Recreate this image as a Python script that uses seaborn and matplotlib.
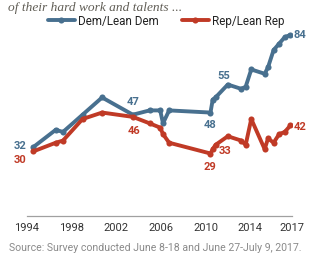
import matplotlib
matplotlib.use("Agg")
import matplotlib.pyplot as plt
from matplotlib.lines import Line2D
import seaborn as sns
import pandas as pd

# ---- data ----
years = [1994.6, 1996.6, 1997.25, 1999.0, 2000.75, 2003.5, 2005.0, 2005.95,
         2006.2, 2006.75, 2010.45, 2010.65, 2010.9, 2012.0, 2013.2, 2013.6,
         2014.1, 2015.3, 2015.6, 2016.1, 2016.6, 2017.1, 2017.6]
dem = [32, 40, 39, 47, 55, 47, 49, 49, 43, 49, 48, 54, 55, 61, 59, 60,
       68, 66, 69, 77, 80, 83, 84]
rep = [30, 34, 35, 45, 48, 46, 43, 41, 38, 34, 29, 31, 33, 37, 35, 33,
       45, 31, 36, 34, 38, 39, 42]
series_names = ["Dem/Lean Dem", "Rep/Lean Rep"]
tick_years = [1994, 1998, 2002, 2006, 2010, 2014, 2017.7]
tick_labels = ["1994", "1998", "2002", "2006", "2010", "2014", "2017"]
subtitle = "of their hard work and talents ..."
source = "Source: Survey conducted June 8-18 and June 27-July 9, 2017."

# labels: (series, index, text, dx_px, dy_px, ha)
point_labels = [
    (0, 0, "32", -13, 2, "center"),
    (1, 0, "30", -13, -8, "center"),
    (0, 5, "47", 0, 14, "center"),
    (1, 5, "46", 1, -13, "center"),
    (0, 12, "55", 8, 22, "center"),
    (0, 10, "48", 0, -11, "center"),
    (1, 10, "29", -1, -12, "center"),
    (1, 12, "33", 10, -5, "center"),
    (0, 22, "84", 3, 1, "left"),
    (1, 22, "42", 3, -1, "left"),
]

BLUE = "#48708f"
RED = "#c03a26"
colors = [BLUE, RED]

df = pd.DataFrame({
    "year": years * 2,
    "value": dem + rep,
    "party": [series_names[0]] * len(years) + [series_names[1]] * len(years),
})

sns.set_style("white")
plt.rcParams["font.family"] = ["Roboto", "DejaVu Sans"]

fig = plt.figure(figsize=(3.09, 2.55), dpi=100)
ax = fig.add_axes([26.7 / 309, 1 - 217 / 255, 265 / 309, 215.5 / 255])
ax.patch.set_alpha(0)

sns.lineplot(data=df, x="year", y="value", hue="party", palette=colors,
             marker="o", markersize=4.4, markeredgewidth=0, linewidth=2.8,
             legend=False, ax=ax, zorder=3)

ax.set_xlim(1994, 2017.72)
ax.set_ylim(0, 100)
for s in ["top", "right", "left"]:
    ax.spines[s].set_visible(False)
ax.spines["bottom"].set_color("#a0a0a0")
ax.spines["bottom"].set_linewidth(0.9)
ax.set_xticks(tick_years)
ax.set_xticklabels(tick_labels)
ax.tick_params(axis="x", direction="in", length=4, width=0.8, color="#a0a0a0",
               labelsize=8.0, labelcolor="#333333", pad=4.5)
ax.set_yticks([])
ax.set_xlabel("")
ax.set_ylabel("")

vals = [dem, rep]
for si, idx, txt, dx, dy, ha in point_labels:
    ax.annotate(txt, (years[idx], vals[si][idx]), xytext=(dx, dy),
                textcoords="offset pixels", ha=ha, va="center",
                fontsize=8.0, fontweight="bold", color=colors[si], zorder=5)

handles = [Line2D([], [], color=c, linewidth=2.8, marker="o", markersize=4.4,
                  markeredgewidth=0) for c in colors]
fig.legend(handles, series_names, loc="center", bbox_to_anchor=(166 / 309, 1 - 22 / 255),
           ncol=2, frameon=False, fontsize=8.4, handlelength=2.3,
           handletextpad=0.25, columnspacing=2.0, numpoints=1,
           labelcolor="#222222")

fig.text(8 / 309, 1 - 8 / 255, subtitle, ha="left", va="center",
         fontsize=9.6, style="italic", family=["Liberation Serif", "DejaVu Serif"],
         color="#605d55")
fig.text(9 / 309, 1 - 248 / 255, source, ha="left", va="center",
         fontsize=7.6, color="#8a8a8a")

fig.savefig("out.png", dpi=100)
